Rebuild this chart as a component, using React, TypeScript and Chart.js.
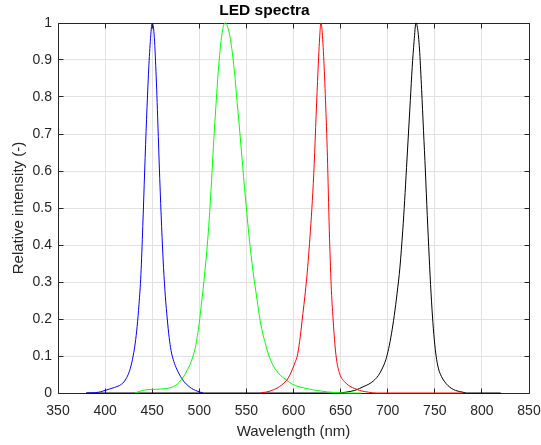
import React, { useEffect, useRef } from "react";
import { Chart, registerables } from "chart.js";

Chart.register(...registerables);

const chartTitle = "LED spectra";
const xAxisTitle = "Wavelength (nm)";
const yAxisTitle = "Relative intensity (-)";

const xTickLabels = ["350", "400", "450", "500", "550", "600", "650", "700", "750", "800", "850"];
const yTickLabels = ["0", "0.1", "0.2", "0.3", "0.4", "0.5", "0.6", "0.7", "0.8", "0.9", "1"];

const blueWavelength = [380, 390, 395, 400, 405, 410, 415, 420, 423, 426, 429, 432, 434, 436, 438, 440, 442, 444, 446, 448, 450, 452, 454, 456, 458, 460, 462, 464, 466, 468, 470, 473, 476, 480, 484, 488, 492, 496, 500, 504];
const blueIntensity = [0, 0.001, 0.003, 0.007, 0.011, 0.015, 0.02, 0.03, 0.042, 0.06, 0.09, 0.135, 0.18, 0.24, 0.32, 0.45, 0.6, 0.74, 0.86, 0.95, 1, 0.97, 0.87, 0.73, 0.58, 0.45, 0.34, 0.26, 0.2, 0.15, 0.115, 0.085, 0.065, 0.045, 0.03, 0.02, 0.012, 0.007, 0.003, 0];

const greenWavelength = [432, 436, 440, 445, 450, 455, 460, 465, 470, 475, 479, 483, 486, 490, 493, 496, 498, 500, 502, 504, 506, 508, 510, 512, 514, 516, 518, 520, 522, 524, 526, 528, 530, 532, 534, 536, 538, 540, 542, 544, 546, 548, 550, 552, 554, 556, 558, 560, 562, 564, 567, 570, 574, 578, 582, 586, 590, 594, 598, 602, 606, 612, 618, 624, 630, 636, 645, 655, 672];
const greenIntensity = [0, 0.004, 0.007, 0.009, 0.01, 0.01, 0.011, 0.012, 0.015, 0.021, 0.03, 0.043, 0.056, 0.076, 0.097, 0.125, 0.155, 0.19, 0.235, 0.28, 0.33, 0.385, 0.45, 0.53, 0.62, 0.71, 0.79, 0.865, 0.925, 0.97, 0.995, 1, 0.99, 0.97, 0.94, 0.9, 0.85, 0.79, 0.735, 0.675, 0.615, 0.555, 0.5, 0.445, 0.395, 0.35, 0.31, 0.275, 0.24, 0.205, 0.165, 0.135, 0.1, 0.076, 0.06, 0.048, 0.04, 0.032, 0.025, 0.02, 0.017, 0.013, 0.01, 0.007, 0.005, 0.003, 0.001, 0, 0];

const redWavelength = [565, 570, 575, 580, 585, 589, 593, 596, 599, 602, 604, 606, 608, 610, 612, 614, 616, 618, 620, 622, 624, 626, 628, 629, 630, 632, 634, 636, 637, 638, 639, 640, 642, 644, 646, 649, 652, 656, 660, 665, 670, 675, 680, 688, 780];
const redIntensity = [0, 0.002, 0.005, 0.01, 0.017, 0.025, 0.035, 0.048, 0.065, 0.085, 0.1, 0.13, 0.17, 0.215, 0.26, 0.31, 0.37, 0.44, 0.52, 0.62, 0.75, 0.87, 0.97, 1, 0.99, 0.91, 0.79, 0.64, 0.54, 0.44, 0.36, 0.29, 0.2, 0.13, 0.085, 0.052, 0.037, 0.026, 0.018, 0.012, 0.007, 0.004, 0.002, 0, 0];

const blackWavelength = [380, 648, 655, 660, 665, 670, 675, 680, 685, 690, 694, 698, 701, 704, 707, 710, 713, 716, 718, 720, 722, 724, 726, 728, 730, 732, 734, 736, 738, 740, 742, 744, 746, 748, 750, 752, 754, 757, 760, 764, 768, 772, 776, 780, 784, 820];
const blackIntensity = [0, 0, 0.002, 0.004, 0.007, 0.012, 0.018, 0.024, 0.033, 0.047, 0.065, 0.09, 0.12, 0.16, 0.21, 0.27, 0.34, 0.44, 0.52, 0.61, 0.7, 0.79, 0.88, 0.95, 1, 0.98, 0.92, 0.82, 0.71, 0.6, 0.48, 0.37, 0.27, 0.19, 0.13, 0.09, 0.065, 0.045, 0.032, 0.02, 0.012, 0.007, 0.004, 0.002, 0, 0];

const FONT = "'Liberation Sans', Arial, Helvetica, sans-serif";
const AXIS_COLOR = "#262626";

const toPoints = (xs: number[], ys: number[]) => xs.map((x, i) => ({ x, y: ys[i] }));

const xTickValues = xTickLabels.map(Number);
const yTickValues = yTickLabels.map(Number);

const boxPlugin = {
  id: "matlabBox",
  beforeDatasetsDraw(chart: any) {
    const { ctx, chartArea, scales } = chart;
    const { left, right, top, bottom } = chartArea;
    const a = (p: number) => Math.round(p - 0.5) + 0.5;
    ctx.save();
    ctx.strokeStyle = AXIS_COLOR;
    ctx.lineWidth = 1;
    const L = a(left), R = a(right), T = a(top), B = a(bottom);
    ctx.beginPath();
    ctx.rect(L, T, R - L, B - T);
    const tl = 5;
    xTickValues.forEach((v) => {
      const px = a(scales.x.getPixelForValue(v));
      ctx.moveTo(px, B);
      ctx.lineTo(px, B - tl);
      ctx.moveTo(px, T);
      ctx.lineTo(px, T + tl);
    });
    yTickValues.forEach((v) => {
      const py = a(scales.y.getPixelForValue(v));
      ctx.moveTo(L, py);
      ctx.lineTo(L + tl, py);
      ctx.moveTo(R, py);
      ctx.lineTo(R - tl, py);
    });
    ctx.stroke();
    ctx.restore();
  },
};

export default function App() {
  const canvasRef = useRef<HTMLCanvasElement | null>(null);

  useEffect(() => {
    if (!canvasRef.current) return;
    const mk = (label: string, xs: number[], ys: number[], color: string) => ({
      label,
      data: toPoints(xs, ys),
      borderColor: color,
      backgroundColor: color,
      borderWidth: 1,
      pointRadius: 0,
      showLine: true,
      fill: false,
      cubicInterpolationMode: "monotone" as const,
      clip: false as any,
    });
    const chart = new Chart(canvasRef.current, {
      type: "scatter",
      data: {
        datasets: [
          mk("Red", redWavelength, redIntensity, "#ff0000"),
          mk("Green", greenWavelength, greenIntensity, "#00ff00"),
          mk("Blue", blueWavelength, blueIntensity, "#0000ff"),
          mk("Far-red", blackWavelength, blackIntensity, "#000000"),
        ],
      },
      plugins: [boxPlugin],
      options: {
        animation: false,
        responsive: false,
        maintainAspectRatio: false,
        layout: { padding: { left: 0, right: 12, top: 0, bottom: 0 } },
        plugins: {
          legend: { display: false },
          tooltip: { enabled: false },
          title: {
            display: true,
            text: chartTitle,
            color: "#000000",
            font: { family: FONT, size: 15.5, weight: "bold" },
            padding: { top: 1, bottom: 3.4 },
          },
        },
        scales: {
          x: {
            type: "linear",
            min: 350,
            max: 850,
            afterFit: (s: any) => {
              s.height = 52;
              s.paddingLeft = 0;
              s.paddingRight = 0;
            },
            afterBuildTicks: (s: any) => {
              s.ticks = xTickValues.map((value) => ({ value }));
            },
            ticks: {
              color: AXIS_COLOR,
              font: { family: FONT, size: 14 },
              padding: 10,
              maxRotation: 0,
              autoSkip: false,
              callback: (v: any) => xTickLabels[xTickValues.indexOf(Number(v))] ?? "",
            },
            grid: { color: "#e2e2e2", lineWidth: 1, drawTicks: false },
            border: { display: false },
            title: {
              display: true,
              text: xAxisTitle,
              color: AXIS_COLOR,
              font: { family: FONT, size: 15 },
              padding: { top: 0, bottom: 4.5 },
            },
          },
          y: {
            type: "linear",
            min: 0,
            max: 1,
            afterFit: (s: any) => {
              s.width = 58;
              s.paddingTop = 0;
              s.paddingBottom = 0;
            },
            afterBuildTicks: (s: any) => {
              s.ticks = yTickValues.map((value) => ({ value }));
            },
            ticks: {
              color: AXIS_COLOR,
              font: { family: FONT, size: 14 },
              padding: 6,
              autoSkip: false,
              callback: (v: any) => {
                const i = yTickValues.findIndex((t) => Math.abs(t - Number(v)) < 1e-9);
                return i >= 0 ? yTickLabels[i] : "";
              },
            },
            grid: { color: "#e2e2e2", lineWidth: 1, drawTicks: false },
            border: { display: false },
            title: {
              display: true,
              text: yAxisTitle,
              color: AXIS_COLOR,
              font: { family: FONT, size: 15 },
              padding: { top: 10, bottom: 0 },
            },
          },
        },
      },
    });
    return () => chart.destroy();
  }, []);

  return (
    <div style={{ position: "absolute", left: 0, top: 0, width: 541, height: 445, background: "#ffffff" }}>
      <canvas ref={canvasRef} width={541} height={445} style={{ display: "block" }} />
    </div>
  );
}
